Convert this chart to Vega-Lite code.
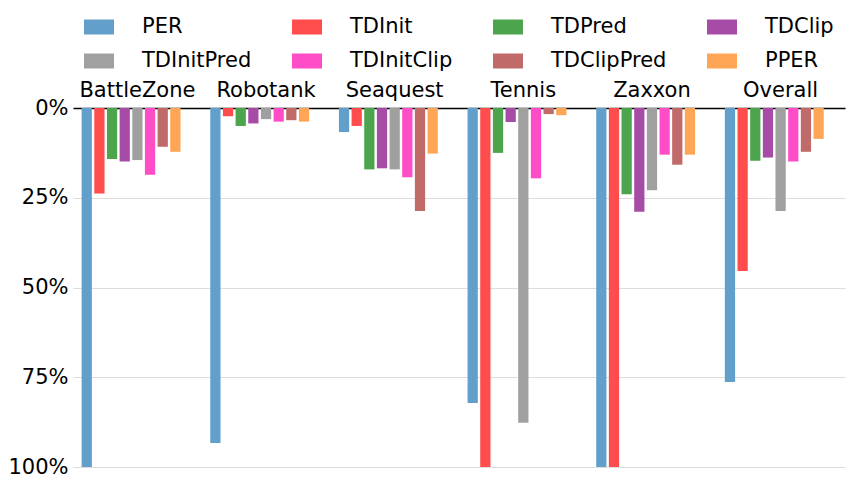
{
  "$schema": "https://vega.github.io/schema/vega-lite/v6.json",
  "autosize": {"type": "none"},
  "padding": {"left": 73, "top": 108, "right": 9, "bottom": 22},
  "width": 772,
  "height": 359,
  "config": {"font": "DejaVu Sans", "view": {"stroke": null}},
  "data": {"values": [
    {"game": "BattleZone", "method": "PER", "value": 100},
    {"game": "BattleZone", "method": "TDInit", "value": 23.8},
    {"game": "BattleZone", "method": "TDPred", "value": 14.2},
    {"game": "BattleZone", "method": "TDClip", "value": 14.9},
    {"game": "BattleZone", "method": "TDInitPred", "value": 14.5},
    {"game": "BattleZone", "method": "TDInitClip", "value": 18.6},
    {"game": "BattleZone", "method": "TDClipPred", "value": 10.8},
    {"game": "BattleZone", "method": "PPER", "value": 12.2},
    {"game": "Robotank", "method": "PER", "value": 93.3},
    {"game": "Robotank", "method": "TDInit", "value": 2.3},
    {"game": "Robotank", "method": "TDPred", "value": 5.0},
    {"game": "Robotank", "method": "TDClip", "value": 4.3},
    {"game": "Robotank", "method": "TDInitPred", "value": 3.1},
    {"game": "Robotank", "method": "TDInitClip", "value": 3.8},
    {"game": "Robotank", "method": "TDClipPred", "value": 3.4},
    {"game": "Robotank", "method": "PPER", "value": 3.8},
    {"game": "Seaquest", "method": "PER", "value": 6.7},
    {"game": "Seaquest", "method": "TDInit", "value": 5.0},
    {"game": "Seaquest", "method": "TDPred", "value": 17.1},
    {"game": "Seaquest", "method": "TDClip", "value": 16.8},
    {"game": "Seaquest", "method": "TDInitPred", "value": 17.1},
    {"game": "Seaquest", "method": "TDInitClip", "value": 19.3},
    {"game": "Seaquest", "method": "TDClipPred", "value": 28.7},
    {"game": "Seaquest", "method": "PPER", "value": 12.7},
    {"game": "Tennis", "method": "PER", "value": 82.2},
    {"game": "Tennis", "method": "TDInit", "value": 100},
    {"game": "Tennis", "method": "TDPred", "value": 12.5},
    {"game": "Tennis", "method": "TDClip", "value": 3.9},
    {"game": "Tennis", "method": "TDInitPred", "value": 87.7},
    {"game": "Tennis", "method": "TDInitClip", "value": 19.6},
    {"game": "Tennis", "method": "TDClipPred", "value": 1.7},
    {"game": "Tennis", "method": "PPER", "value": 2.0},
    {"game": "Zaxxon", "method": "PER", "value": 100},
    {"game": "Zaxxon", "method": "TDInit", "value": 100},
    {"game": "Zaxxon", "method": "TDPred", "value": 24.0},
    {"game": "Zaxxon", "method": "TDClip", "value": 28.9},
    {"game": "Zaxxon", "method": "TDInitPred", "value": 22.9},
    {"game": "Zaxxon", "method": "TDInitClip", "value": 13.0},
    {"game": "Zaxxon", "method": "TDClipPred", "value": 15.8},
    {"game": "Zaxxon", "method": "PPER", "value": 13.0},
    {"game": "Overall", "method": "PER", "value": 76.3},
    {"game": "Overall", "method": "TDInit", "value": 45.4},
    {"game": "Overall", "method": "TDPred", "value": 14.7},
    {"game": "Overall", "method": "TDClip", "value": 13.8},
    {"game": "Overall", "method": "TDInitPred", "value": 28.7},
    {"game": "Overall", "method": "TDInitClip", "value": 14.9},
    {"game": "Overall", "method": "TDClipPred", "value": 12.2},
    {"game": "Overall", "method": "PPER", "value": 8.6}
  ]},
  "mark": {"type": "bar"},
  "encoding": {
    "x": {
      "field": "game", "type": "nominal",
      "sort": ["BattleZone", "Robotank", "Seaquest", "Tennis", "Zaxxon", "Overall"],
      "scale": {"paddingInner": 0.133, "paddingOuter": 0.067},
      "axis": {"orient": "top", "title": null, "labelAngle": 0, "ticks": false,
               "domainColor": "black", "domainWidth": 1.5, "labelFontSize": 21,
               "labelColor": "black", "labelPadding": 8, "labelBaseline": "bottom"}
    },
    "xOffset": {
      "field": "method", "type": "nominal",
      "scale": {"domain": ["PER", "TDInit", "TDPred", "TDClip", "TDInitPred", "TDInitClip", "TDClipPred", "PPER", "_"],
                "paddingInner": 0.19, "paddingOuter": 0}
    },
    "y": {
      "field": "value", "type": "quantitative",
      "scale": {"domain": [0, 100], "reverse": true, "nice": false},
      "axis": {"title": null, "values": [0, 25, 50, 75, 100], "labelExpr": "datum.value + '%'",
               "domain": false, "ticks": false, "grid": true, "gridColor": "#dddddd",
               "labelFontSize": 21, "labelColor": "black", "labelPadding": 5}
    },
    "color": {
      "field": "method", "type": "nominal",
      "scale": {
        "domain": ["PER", "TDInit", "TDPred", "TDClip", "TDInitPred", "TDInitClip", "TDClipPred", "PPER"],
        "range": ["#62a0cb", "#ff4c4c", "#4ca54c", "#a64ca6", "#a0a0a0", "#ff4dc8", "#c06a6a", "#ffa556"]
      },
      "legend": {
        "orient": "none", "direction": "horizontal", "legendX": 11, "legendY": -96, "columns": 4, "title": null,
        "symbolType": "M-1,-0.5H1V0.5H-1Z", "symbolSize": 900, "symbolStrokeWidth": 0,
        "symbolOpacity": 1, "labelFontSize": 21, "labelColor": "black", "labelOffset": 28,
        "columnPadding": 40, "rowPadding": 9, "padding": 0
      }
    }
  }
}
